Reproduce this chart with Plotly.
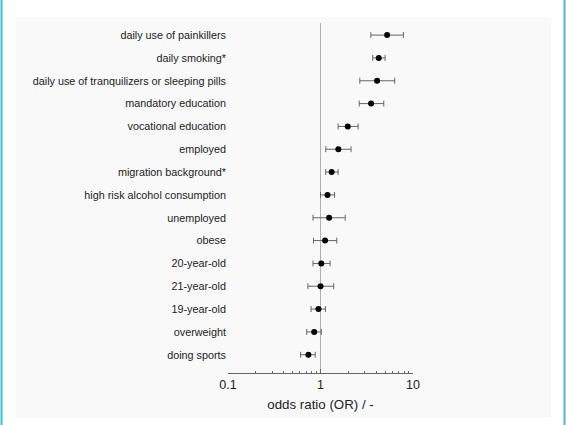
import plotly.graph_objects as go

categories = [
    "daily use of painkillers",
    "daily smoking*",
    "daily use of tranquilizers or sleeping pills",
    "mandatory education",
    "vocational education",
    "employed",
    "migration background*",
    "high risk alcohol consumption",
    "unemployed",
    "obese",
    "20-year-old",
    "21-year-old",
    "19-year-old",
    "overweight",
    "doing sports",
]
odds_ratio = [5.25, 4.26, 4.09, 3.52, 1.97, 1.56, 1.32, 1.19, 1.24, 1.12, 1.02, 1.00, 0.95, 0.855, 0.74]
ci_lower = [3.5, 3.67, 2.66, 2.62, 1.55, 1.14, 1.14, 1.00, 0.83, 0.84, 0.83, 0.73, 0.79, 0.71, 0.61]
ci_upper = [7.87, 4.99, 6.34, 4.83, 2.55, 2.14, 1.55, 1.42, 1.85, 1.50, 1.27, 1.39, 1.13, 1.02, 0.877]
x_ticks = [0.1, 1, 10]
x_tick_labels = ["0.1", "1", "10"]
x_minor = [0.2, 0.3, 0.4, 0.5, 0.6, 0.7, 0.8, 0.9, 2, 3, 4, 5, 6, 7, 8, 9]

ypos = list(range(len(categories)))
err_plus = [u - v for u, v in zip(ci_upper, odds_ratio)]
err_minus = [v - l for v, l in zip(odds_ratio, ci_lower)]

FONT = "Liberation Sans, Arial, sans-serif"

fig = go.Figure()
fig.add_trace(go.Scatter(
    x=odds_ratio, y=ypos, mode="markers",
    marker=dict(color="black", size=6),
    error_x=dict(type="data", symmetric=False, array=err_plus, arrayminus=err_minus,
                 color="#666666", thickness=1, width=3),
    showlegend=False, hoverinfo="skip",
))

L, R, T, B = 228, 153, 23, 52
W, H = 566, 425
pw, ph = W - L - R, H - T - B

def px2x(px):
    return (px - L) / pw

def py2y(py):
    return (H - B - py) / ph

BORDER = "#45b7d1"
shapes = [
    dict(type="rect", xref="paper", yref="paper", x0=px2x(16), x1=px2x(551),
         y0=py2y(418), y1=py2y(17), fillcolor="#f9f9f9", line=dict(width=0), layer="below"),
    dict(type="rect", xref="paper", yref="paper", x0=px2x(0.5), x1=px2x(2.5), y0=py2y(425), y1=py2y(0),
         fillcolor=BORDER, line=dict(width=0)),
    dict(type="rect", xref="paper", yref="paper", x0=px2x(563.5), x1=px2x(565.5), y0=py2y(425), y1=py2y(0),
         fillcolor=BORDER, line=dict(width=0)),
    dict(type="line", xref="x", yref="paper", x0=1, x1=1, y0=0, y1=1,
         line=dict(color="#b0b0b0", width=1), layer="below"),
]

fig.update_layout(
    width=W, height=H,
    margin=dict(l=L, r=R, t=T, b=B, autoexpand=False),
    paper_bgcolor="white",
    plot_bgcolor="rgba(0,0,0,0)",
    font=dict(family=FONT, color="#222222", size=12),
    shapes=shapes,
    xaxis=dict(
        type="log", range=[-1, 1],
        tickvals=x_ticks, ticktext=x_tick_labels,
        ticks="inside", ticklen=4, tickcolor="#666666",
        showline=True, linecolor="#666666", linewidth=1,
        showgrid=False, zeroline=False, automargin=False,
        tickfont=dict(size=12.5),
        minor=dict(tickvals=x_minor, ticks="inside", ticklen=2, tickcolor="#666666", showgrid=False),
        title=dict(text="odds ratio (OR) / -", font=dict(size=13.3), standoff=8),
    ),
    yaxis=dict(
        range=[14.8, -0.53],
        tickvals=ypos, ticktext=categories,
        showgrid=False, zeroline=False, showline=False, ticks="",
        ticklabelstandoff=1, automargin=False,
        tickfont=dict(size=10.8),
    ),
)

fig.write_html("out.html", config={"displayModeBar": False},
               post_script="document.body.style.margin='0';document.body.style.overflow='hidden';")
